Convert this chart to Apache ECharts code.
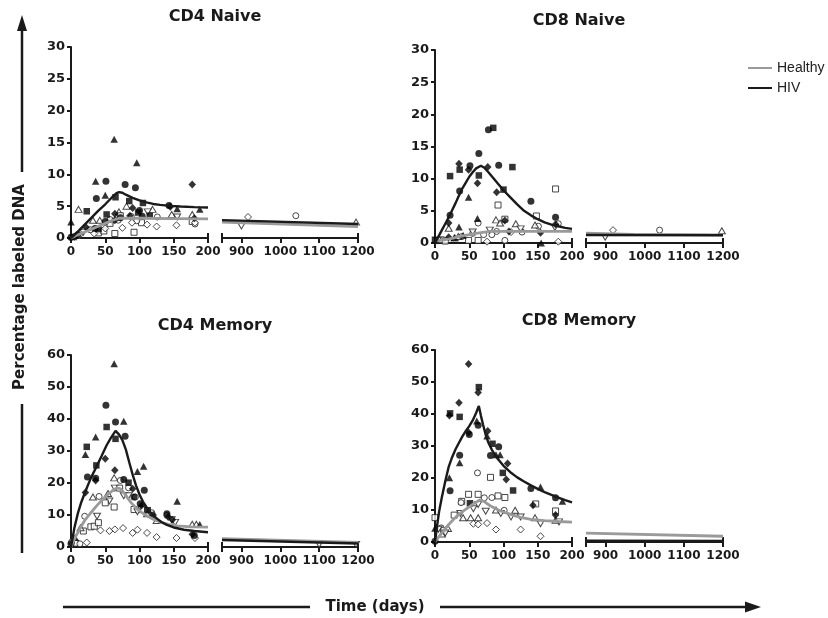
<!DOCTYPE html>
<html>
<head>
<meta charset="utf-8">
<script src="https://cdn.jsdelivr.net/npm/echarts@6/dist/echarts.min.js"></script>
<style>
  html, body { margin: 0; padding: 0; background: #fff; }
  #chart { width: 828px; height: 618px; }
</style>
</head>
<body>
<div id="chart"></div>
<script>
// ---- Labelled-DNA measurements: [day, % labelled, subject symbol] ----
// HIV subjects (filled symbols), healthy subjects (open symbols)

const cd4NaiveHiv = [
  [0, 2.5, 'triangle'], [63, 15.5, 'triangle'], [96, 11.8, 'triangle'], [36, 8.9, 'triangle'],
  [51, 8.9, 'circle'], [79, 8.4, 'circle'], [94, 7.9, 'circle'], [177, 8.4, 'diamond'],
  [37, 6.2, 'circle'], [50, 6.7, 'triangle'], [65, 6.4, 'square'], [23, 4.2, 'square'],
  [85, 5.8, 'square'], [105, 5.5, 'square'], [52, 3.7, 'square'], [64, 3.8, 'diamond'],
  [100, 4.3, 'circle'], [104, 3.4, 'circle'], [115, 3.5, 'square'], [143, 5.1, 'circle'],
  [145, 4.9, 'diamond'], [155, 4.6, 'triangle'], [188, 4.5, 'triangle'], [22, 1.7, 'diamond'],
  [35, 1.5, 'circle'], [40, 1.4, 'square'], [50, 2.6, 'circle'], [64, 2.8, 'diamond'],
  [86, 3.5, 'diamond'], [90, 4.7, 'diamond'], [10, 0.5, 'circle'], [5, 0.2, 'diamond'],
  [0, 0.1, 'circle'], [72, 3.2, 'circle'], [98, 4.0, 'square'], [180, 3.1, 'diamond']
];
const cd4NaiveHealthy = [
  [11, 4.5, 'triangle'], [32, 2.8, 'triangle'], [42, 2.8, 'triangle'], [70, 4.1, 'triangle'],
  [81, 5.0, 'triangle'], [119, 4.5, 'triangle'], [147, 3.7, 'triangle'], [177, 3.7, 'triangle'],
  [112, 4.1, 'triangleDown'], [155, 3.3, 'triangleDown'], [60, 2.6, 'triangleDown'],
  [40, 0.8, 'square'], [64, 0.7, 'square'], [92, 0.9, 'square'], [103, 2.4, 'square'],
  [177, 2.6, 'square'], [72, 3.5, 'square'], [57, 2.3, 'square'], [48, 1.1, 'square'],
  [57, 2.9, 'circle'], [69, 2.8, 'circle'], [126, 3.3, 'circle'], [181, 2.2, 'circle'],
  [88, 3.4, 'circle'], [28, 1.3, 'circle'], [96, 2.7, 'circle'],
  [34, 0.7, 'diamond'], [50, 1.5, 'diamond'], [75, 1.6, 'diamond'], [89, 2.4, 'diamond'],
  [111, 2.1, 'diamond'], [125, 1.8, 'diamond'], [154, 2.0, 'diamond'], [181, 2.4, 'diamond'],
  [3, 0.2, 'triangle'], [12, 0.4, 'diamond'], [18, 0.9, 'triangleDown'],
  [917, 3.3, 'diamond'], [900, 1.9, 'triangleDown'], [1040, 3.5, 'circle'], [1195, 2.5, 'triangle']
];
const cd4NaiveHivFit = [
  [0, 0], [10, 1.0], [20, 2.1], [30, 3.2], [40, 4.3], [50, 5.3], [60, 6.4], [66, 7.0], [70, 7.2],
  [75, 7.1], [80, 6.8], [90, 6.3], [100, 5.9], [110, 5.6], [120, 5.35], [130, 5.2], [145, 5.05],
  [160, 4.95], [180, 4.85], [200, 4.8]
];
const cd4NaiveHealthyFit = [
  [0, 0], [10, 0.5], [20, 0.95], [30, 1.4], [40, 1.85], [50, 2.3], [60, 2.75], [70, 3.1],
  [100, 3.1], [150, 3.05], [200, 3.0]
];
const cd4NaiveHivLateFit = [[850, 2.8], [1200, 2.2]];
const cd4NaiveHealthyLateFit = [[850, 2.5], [1200, 1.8]];

const cd8NaiveHiv = [
  [78, 17.6, 'circle'], [85, 17.9, 'square'], [64, 13.9, 'circle'], [35, 12.3, 'diamond'],
  [36, 11.4, 'square'], [51, 12.0, 'circle'], [49, 11.4, 'diamond'], [77, 11.8, 'diamond'],
  [93, 12.1, 'circle'], [113, 11.8, 'square'], [22, 10.4, 'square'], [64, 10.5, 'square'],
  [62, 9.3, 'diamond'], [36, 8.1, 'circle'], [100, 8.3, 'square'], [90, 7.9, 'diamond'],
  [140, 6.5, 'circle'], [49, 7.1, 'triangle'], [22, 4.3, 'circle'], [20, 3.1, 'diamond'],
  [62, 3.8, 'triangle'], [102, 3.5, 'diamond'], [176, 4.0, 'circle'], [176, 2.9, 'diamond'],
  [154, 1.6, 'diamond'], [35, 2.5, 'triangle'], [155, 0.0, 'triangle'], [20, 0.9, 'diamond'],
  [0, 0.5, 'square'], [108, 1.8, 'diamond'], [41, 1.2, 'triangle'], [28, 0.8, 'triangle']
];
const cd8NaiveHealthy = [
  [176, 8.4, 'square'], [92, 5.9, 'square'], [148, 4.2, 'square'], [151, 2.6, 'circle'],
  [102, 3.7, 'square'], [89, 3.6, 'triangle'], [118, 3.0, 'triangle'], [146, 2.8, 'triangle'],
  [20, 2.3, 'triangle'], [95, 3.1, 'triangle'], [63, 3.1, 'circle'], [180, 3.0, 'circle'],
  [49, 0.4, 'square'], [63, 0.4, 'square'], [9, 0.5, 'square'], [102, 0.4, 'circle'],
  [76, 0.2, 'diamond'], [180, 0.2, 'diamond'], [39, 1.0, 'circle'], [55, 1.5, 'circle'],
  [71, 1.3, 'circle'], [83, 1.3, 'circle'], [90, 1.8, 'circle'], [111, 1.7, 'diamond'],
  [127, 1.7, 'circle'], [55, 1.7, 'triangleDown'], [80, 2.0, 'triangleDown'],
  [125, 2.2, 'triangleDown'], [29, 0.8, 'triangle'], [34, 1.0, 'triangle'], [15, 0.3, 'square'],
  [4, 0.4, 'triangleDown'], [175, 2.4, 'triangleDown'],
  [919, 2.0, 'diamond'], [899, 0.9, 'triangleDown'], [1038, 2.0, 'circle'], [1197, 1.9, 'triangle']
];
const cd8NaiveHivFit = [
  [0, 0], [5, 1.0], [10, 2.0], [15, 3.0], [20, 4.0], [25, 5.1], [30, 6.2], [35, 7.4], [40, 8.5],
  [45, 9.4], [50, 10.3], [55, 11.0], [60, 11.6], [67, 12.0], [72, 11.7], [78, 11.0], [85, 10.1],
  [92, 9.2], [100, 8.2], [110, 7.1], [120, 6.0], [130, 5.0], [140, 4.3], [150, 3.7], [160, 3.2],
  [170, 2.85], [180, 2.6], [190, 2.35], [200, 2.2]
];
const cd8NaiveHealthyFit = [
  [0, 0.3], [20, 0.6], [40, 1.1], [60, 1.5], [80, 1.8], [120, 1.8], [200, 1.8]
];
const cd8NaiveHivLateFit = [[850, 1.25], [1200, 1.2]];
const cd8NaiveHealthyLateFit = [[850, 1.55], [970, 1.35], [1200, 1.25]];

const cd4MemoryHiv = [
  [63, 57.3, 'triangle'], [51, 44.3, 'circle'], [52, 37.5, 'square'], [65, 39.1, 'circle'],
  [77, 39.3, 'triangle'], [65, 33.8, 'square'], [79, 34.6, 'circle'], [36, 34.4, 'triangle'],
  [23, 31.3, 'square'], [21, 28.9, 'triangle'], [37, 25.5, 'square'], [36, 21.5, 'circle'],
  [36, 20.8, 'diamond'], [50, 27.6, 'diamond'], [24, 21.9, 'circle'], [21, 17.0, 'diamond'],
  [64, 24.0, 'diamond'], [77, 21.1, 'circle'], [84, 20.1, 'square'], [97, 23.6, 'triangle'],
  [106, 25.2, 'triangle'], [107, 17.7, 'circle'], [90, 18.2, 'diamond'], [92, 15.6, 'circle'],
  [155, 14.3, 'triangle'], [101, 13.5, 'circle'], [103, 13.0, 'diamond'], [140, 10.4, 'circle'],
  [142, 9.4, 'diamond'], [177, 4.0, 'diamond'], [180, 3.6, 'circle'], [188, 7.0, 'triangle'],
  [112, 11.5, 'square'], [0, 1.0, 'circle'], [6, 3.0, 'triangle'], [120, 10.0, 'diamond'],
  [148, 8.5, 'diamond']
];
const cd4MemoryHealthy = [
  [63, 21.6, 'triangle'], [72, 20.8, 'circle'], [84, 18.5, 'circle'], [32, 15.6, 'triangle'],
  [41, 15.8, 'circle'], [54, 16.7, 'triangle'], [56, 14.4, 'triangleDown'], [64, 18.4, 'triangleDown'],
  [71, 18.4, 'square'], [50, 13.8, 'square'], [63, 12.5, 'square'], [77, 16.0, 'triangleDown'],
  [84, 16.0, 'triangleDown'], [92, 11.7, 'square'], [103, 11.7, 'square'], [97, 11.0, 'triangleDown'],
  [94, 15.6, 'circle'], [111, 10.4, 'triangle'], [125, 8.3, 'triangle'], [152, 7.7, 'triangleDown'],
  [147, 8.5, 'triangleDown'], [177, 7.1, 'triangle'], [183, 7.1, 'triangle'], [140, 9.9, 'circle'],
  [29, 6.3, 'square'], [34, 6.5, 'square'], [40, 7.6, 'square'], [18, 5.0, 'square'],
  [38, 9.6, 'triangleDown'], [20, 9.6, 'circle'], [14, 6.0, 'triangle'], [23, 1.4, 'diamond'],
  [43, 5.2, 'diamond'], [56, 5.0, 'diamond'], [64, 5.5, 'diamond'], [76, 5.9, 'diamond'],
  [90, 4.4, 'diamond'], [97, 5.4, 'diamond'], [111, 4.4, 'diamond'], [125, 3.1, 'diamond'],
  [154, 2.8, 'diamond'], [181, 2.8, 'diamond'], [7, 1.2, 'square'], [13, 1.0, 'circle'],
  [1, 1.6, 'circle'], [118, 10.7, 'circle'],
  [1100, 0.8, 'triangleDown'], [1195, 0.8, 'triangleDown']
];
const cd4MemoryHivFit = [
  [0, 0], [5, 6.0], [10, 10.5], [15, 14.0], [20, 16.8], [25, 19.5], [30, 22.0], [37, 25.0],
  [45, 28.6], [52, 31.8], [58, 34.0], [65, 36.3], [70, 35.2], [75, 33.4], [80, 30.5], [85, 26.5],
  [90, 22.6], [95, 19.2], [100, 16.4], [105, 14.2], [110, 12.5], [116, 10.8], [124, 9.1],
  [132, 7.8], [140, 6.9], [150, 6.1], [165, 5.4], [180, 5.0], [200, 4.6]
];
const cd4MemoryHealthyFit = [
  [0, 0], [5, 2.5], [10, 4.6], [15, 6.5], [20, 8.3], [30, 11.0], [38, 13.0], [45, 14.6],
  [52, 16.1], [60, 17.5], [67, 18.5], [72, 18.2], [77, 17.0], [82, 15.5], [88, 13.8], [96, 12.0],
  [104, 10.7], [111, 9.7], [120, 8.7], [130, 7.8], [142, 7.1], [155, 6.6], [175, 6.3], [200, 6.2]
];
const cd4MemoryHivLateFit = [[850, 2.2], [1200, 1.1]];
const cd4MemoryHealthyLateFit = [[850, 2.6], [1200, 1.4]];

const cd8MemoryHiv = [
  [49, 55.6, 'diamond'], [64, 48.4, 'square'], [63, 46.7, 'diamond'], [35, 43.5, 'diamond'],
  [22, 40.2, 'square'], [21, 39.5, 'diamond'], [36, 39.1, 'square'], [49, 34.2, 'diamond'],
  [50, 33.6, 'circle'], [61, 37.8, 'triangle'], [63, 36.5, 'circle'], [77, 34.7, 'diamond'],
  [76, 33.1, 'triangle'], [84, 30.7, 'square'], [93, 29.8, 'circle'], [89, 27.3, 'triangle'],
  [95, 27.3, 'triangle'], [106, 24.5, 'diamond'], [104, 19.5, 'diamond'], [99, 21.6, 'square'],
  [36, 27.1, 'circle'], [36, 24.8, 'triangle'], [21, 20.1, 'triangle'], [22, 16.0, 'circle'],
  [114, 16.1, 'square'], [140, 16.7, 'circle'], [154, 17.2, 'triangle'], [143, 11.5, 'diamond'],
  [176, 13.8, 'circle'], [186, 12.7, 'triangle'], [51, 12.1, 'square'], [176, 8.4, 'diamond'],
  [0, 4.3, 'triangle'], [0, 0.2, 'circle'], [81, 27.0, 'circle']
];
const cd8MemoryHealthy = [
  [62, 21.6, 'circle'], [81, 20.2, 'square'], [49, 14.9, 'square'], [63, 14.9, 'square'],
  [92, 14.4, 'square'], [102, 13.9, 'square'], [72, 13.8, 'circle'], [83, 13.9, 'circle'],
  [39, 12.7, 'square'], [38, 12.3, 'circle'], [147, 11.9, 'square'], [28, 8.4, 'square'],
  [37, 8.9, 'triangleDown'], [56, 10.4, 'triangleDown'], [63, 11.7, 'triangleDown'],
  [74, 9.6, 'triangleDown'], [101, 9.9, 'circle'], [89, 10.0, 'triangle'], [96, 8.9, 'triangleDown'],
  [117, 9.9, 'triangle'], [111, 7.8, 'triangleDown'], [125, 7.8, 'triangleDown'],
  [154, 5.7, 'triangleDown'], [146, 7.6, 'triangle'], [176, 6.8, 'triangle'], [181, 6.3, 'triangleDown'],
  [41, 7.6, 'triangle'], [52, 7.6, 'triangle'], [63, 7.6, 'triangle'], [176, 9.7, 'square'],
  [56, 5.7, 'diamond'], [63, 5.5, 'diamond'], [76, 5.9, 'diamond'], [89, 3.9, 'diamond'],
  [125, 3.9, 'diamond'], [154, 1.8, 'diamond'], [0, 7.6, 'square'], [9, 4.4, 'circle'],
  [12, 3.7, 'circle'], [19, 4.2, 'triangle'], [5, 4.0, 'triangleDown'], [15, 2.8, 'triangleDown'],
  [10, 2.5, 'triangle']
];
const cd8MemoryHivFit = [
  [0, 0], [3, 5.0], [6, 9.5], [10, 14.0], [15, 19.0], [20, 23.5], [25, 26.5], [30, 29.0],
  [35, 31.0], [40, 33.0], [45, 34.7], [50, 36.2], [55, 38.0], [60, 40.3], [64, 42.5], [67, 39.5],
  [70, 36.8], [74, 33.5], [78, 31.0], [83, 28.8], [90, 26.4], [100, 23.8], [110, 21.8],
  [120, 20.2], [130, 18.9], [140, 17.7], [150, 16.6], [160, 15.6], [170, 14.7], [180, 13.9],
  [190, 13.1], [200, 12.4]
];
const cd8MemoryHealthyFit = [
  [0, 0], [5, 1.5], [10, 2.8], [15, 4.2], [20, 5.5], [30, 7.7], [40, 9.5], [50, 11.0],
  [58, 12.2], [66, 13.2], [72, 12.6], [80, 11.4], [88, 10.5], [96, 9.7], [105, 9.0], [115, 8.3],
  [125, 7.7], [140, 7.1], [160, 6.7], [180, 6.4], [200, 6.2]
];
const cd8MemoryHivLateFit = [[850, 0.4], [1200, 0.3]];
const cd8MemoryHealthyLateFit = [[850, 2.8], [1200, 1.8]];

// Broken time axis: early follow-up and late follow-up
const earlyTicks = [0, 50, 100, 150, 200];
const lateTicks = [900, 1000, 1100, 1200];

// ---- Drawing ----
const FONT = 'DejaVu Sans';
const INK = '#1a1a1a';
const GREY = '#9a9a9a';

const SYMBOLS = {
  circle: 'circle', square: 'rect', triangle: 'triangle',
  triangleDown: 'path://M0,0L10,0L5,9Z', diamond: 'diamond'
};
const SIZES = {
  circle: 6, square: 6, triangle: [7, 6], triangleDown: [7, 6], diamond: [7, 7]
};
const FILLED_SIZES = {
  circle: 7, square: 6.5, triangle: [7.5, 7], triangleDown: [7.5, 7], diamond: [7.5, 8]
};

const panels = [
  { title: 'CD4 Naive', titleX: 215, titleY: 9, yMax: 30, yStep: 5,
    hiv: cd4NaiveHiv, healthy: cd4NaiveHealthy,
    fits: [[cd4NaiveHivFit, cd4NaiveHealthyFit], [cd4NaiveHivLateFit, cd4NaiveHealthyLateFit]],
    top: 47, height: 191, lefts: [71, 222], widths: [137, 136] },
  { title: 'CD8 Naive', titleX: 579, titleY: 13, yMax: 30, yStep: 5,
    hiv: cd8NaiveHiv, healthy: cd8NaiveHealthy,
    fits: [[cd8NaiveHivFit, cd8NaiveHealthyFit], [cd8NaiveHivLateFit, cd8NaiveHealthyLateFit]],
    top: 50, height: 193, lefts: [435, 586], widths: [137, 137] },
  { title: 'CD4 Memory', titleX: 215, titleY: 318, yMax: 60, yStep: 10,
    hiv: cd4MemoryHiv, healthy: cd4MemoryHealthy,
    fits: [[cd4MemoryHivFit, cd4MemoryHealthyFit], [cd4MemoryHivLateFit, cd4MemoryHealthyLateFit]],
    top: 355, height: 192, lefts: [71, 222], widths: [137, 136] },
  { title: 'CD8 Memory', titleX: 579, titleY: 313, yMax: 60, yStep: 10,
    hiv: cd8MemoryHiv, healthy: cd8MemoryHealthy,
    fits: [[cd8MemoryHivFit, cd8MemoryHealthyFit], [cd8MemoryHivLateFit, cd8MemoryHealthyLateFit]],
    top: 350, height: 192, lefts: [435, 586], widths: [137, 137] }
];

const segments = [
  { min: 0, max: 200, ticks: earlyTicks, labels: earlyTicks, caps: [200] },
  { min: 850, max: 1200, ticks: [850].concat(lateTicks), labels: lateTicks, caps: [850, 1200] }
];

const labelStyle = { fontFamily: FONT, fontWeight: 'bold', fontSize: 12, color: INK };

const grid = [], xAxis = [], yAxis = [], series = [];

function toItems(points, seg, filled) {
  return points
    .filter(p => p[0] >= seg.min && p[0] <= seg.max)
    .map(p => ({
      value: [p[0], p[1]],
      symbol: SYMBOLS[p[2]],
      symbolSize: filled ? FILLED_SIZES[p[2]] : SIZES[p[2]],
      itemStyle: filled
        ? { color: '#000', borderWidth: 0 }
        : { color: '#fff', borderColor: INK, borderWidth: 1 }
    }));
}

panels.forEach((p) => {
  segments.forEach((seg, si) => {
    const g = grid.length;
    grid.push({
      left: p.lefts[si], top: p.top, width: p.widths[si], height: p.height,
      containLabel: false, outerBoundsMode: 'none'
    });
    // main time axis
    xAxis.push({
      type: 'value', gridIndex: g, min: seg.min, max: seg.max, position: 'bottom',
      axisLine: { show: true, onZero: false, lineStyle: { color: INK, width: 2 } },
      axisTick: { show: true, length: 5, lineStyle: { color: INK, width: 2 }, customValues: seg.ticks },
      axisLabel: {
        show: true, margin: 8, customValues: seg.labels, hideOverlap: false,
        showMinLabel: true, showMaxLabel: true, formatter: v => String(v), ...labelStyle
      },
      splitLine: { show: false }
    });
    // end caps marking the axis break
    xAxis.push({
      type: 'value', gridIndex: g, min: seg.min, max: seg.max, position: 'bottom',
      axisLine: { show: false },
      axisTick: { show: true, inside: true, length: 5, lineStyle: { color: INK, width: 2 }, customValues: seg.caps },
      axisLabel: { show: false },
      splitLine: { show: false }
    });
    yAxis.push({
      type: 'value', gridIndex: g, min: 0, max: p.yMax, interval: p.yStep,
      show: si === 0,
      axisLine: { show: true, onZero: false, lineStyle: { color: INK, width: 2 } },
      axisTick: { show: true, length: 4, lineStyle: { color: INK, width: 2 } },
      axisLabel: { margin: 6, ...labelStyle, fontSize: 13 },
      splitLine: { show: false }
    });
    const xi = 2 * g;
    series.push({
      type: 'scatter', xAxisIndex: xi, yAxisIndex: g, clip: false, z: 3,
      data: toItems(p.healthy, seg, false)
    });
    series.push({
      type: 'scatter', xAxisIndex: xi, yAxisIndex: g, clip: false, z: 3,
      data: toItems(p.hiv, seg, true)
    });
    const [hivFit, healthyFit] = p.fits[si];
    series.push({
      name: 'Healthy', type: 'line', xAxisIndex: xi, yAxisIndex: g, z: 4,
      data: healthyFit, showSymbol: false, smooth: false, clip: false,
      itemStyle: { color: GREY }, lineStyle: { color: GREY, width: 2.8 }
    });
    series.push({
      name: 'HIV', type: 'line', xAxisIndex: xi, yAxisIndex: g, z: 5,
      data: hivFit, showSymbol: false, smooth: false, clip: false,
      itemStyle: { color: INK }, lineStyle: { color: INK, width: 2.4 }
    });
  });
});

const titleFont = 'bold 15px "DejaVu Sans"';

const option = {
  animation: false,
  backgroundColor: '#fff',
  title: panels.map(p => ({
    text: p.title, left: p.titleX, top: p.titleY, textAlign: 'center', padding: 0,
    textStyle: { fontFamily: FONT, fontWeight: 'bold', fontSize: 16, color: INK }
  })),
  legend: {
    data: ['Healthy', 'HIV'], orient: 'vertical', left: 743, top: 56,
    icon: 'rect', itemWidth: 24, itemHeight: 2, itemGap: 6, selectedMode: false,
    textStyle: { fontFamily: 'Liberation Sans', fontSize: 14, color: '#222', padding: [0, 0, 0, 0] }
  },
  grid, xAxis, yAxis, series,
  graphic: [
    { type: 'text', x: 20, y: 287, rotation: Math.PI / 2,
      style: { text: 'Percentage labeled DNA', font: titleFont, fill: INK,
               align: 'center', verticalAlign: 'middle', textAlign: 'center', textVerticalAlign: 'middle' } },
    { type: 'line', shape: { x1: 22, y1: 172, x2: 22, y2: 28 }, style: { stroke: INK, lineWidth: 2.5 } },
    { type: 'polygon', shape: { points: [[22, 15], [17, 31], [27, 31]] }, style: { fill: INK } },
    { type: 'line', shape: { x1: 22, y1: 404, x2: 22, y2: 553 }, style: { stroke: INK, lineWidth: 2.5 } },
    { type: 'line', shape: { x1: 63, y1: 607, x2: 310, y2: 607 }, style: { stroke: INK, lineWidth: 2.5 } },
    { type: 'text', x: 375, y: 607,
      style: { text: 'Time (days)', font: titleFont, fill: INK,
               align: 'center', verticalAlign: 'middle', textAlign: 'center', textVerticalAlign: 'middle' } },
    { type: 'line', shape: { x1: 440, y1: 607, x2: 748, y2: 607 }, style: { stroke: INK, lineWidth: 2.5 } },
    { type: 'polygon', shape: { points: [[761, 607], [745, 601.5], [745, 612.5]] }, style: { fill: INK } }
  ]
};

const chart = echarts.init(document.getElementById('chart'), null, { renderer: 'canvas' });
chart.setOption(option);
</script>
</body>
</html>
